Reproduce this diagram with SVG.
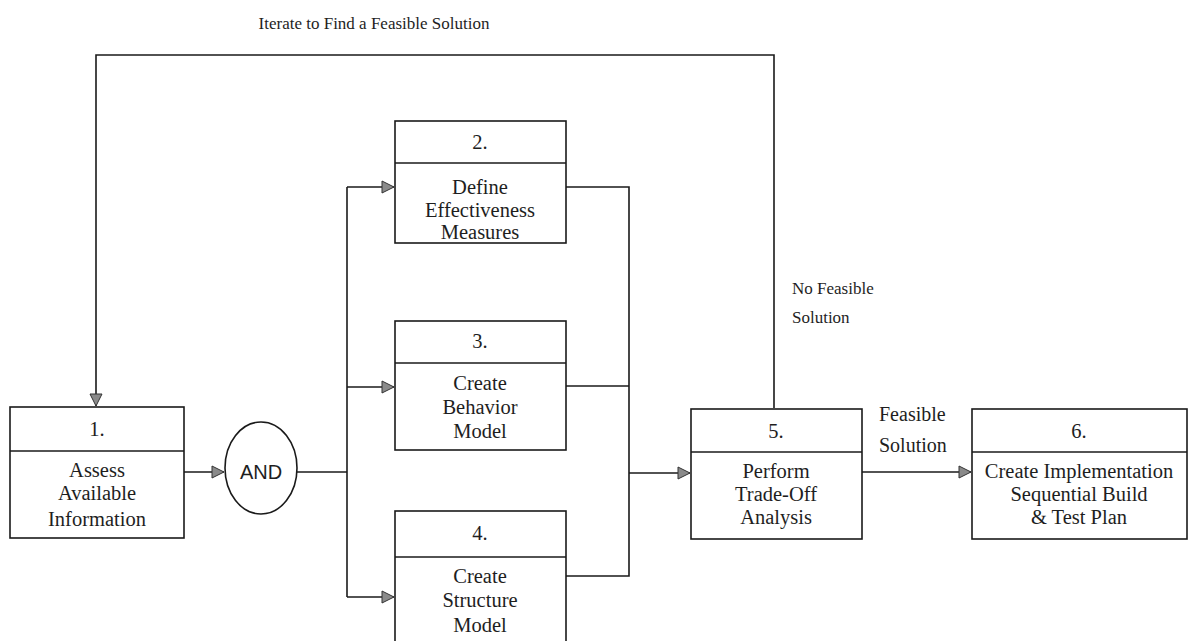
<svg xmlns="http://www.w3.org/2000/svg" width="1196" height="641" viewBox="0 0 1196 641">
  <style>
    .box { fill: #fff; stroke: #1a1a1a; stroke-width: 1.6; }
    .div { stroke: #1a1a1a; stroke-width: 1.6; }
    .wire { fill: none; stroke: #1a1a1a; stroke-width: 1.6; }
    .t { font-family: "Liberation Serif", "Times New Roman", serif; font-size: 20.5px; fill: #1e1e1e; text-anchor: middle; }
    .lbl { font-family: "Liberation Serif", "Times New Roman", serif; font-size: 17px; fill: #1e1e1e; }
    .lbl2 { font-family: "Liberation Serif", "Times New Roman", serif; font-size: 20px; fill: #1e1e1e; }
    .title { font-family: "Liberation Serif", "Times New Roman", serif; font-size: 17px; fill: #1e1e1e; text-anchor: middle; }
  </style>
  <defs>
    <marker id="arrow" markerUnits="userSpaceOnUse" markerWidth="14" markerHeight="14" viewBox="0 0 14 14" refX="13" refY="7" orient="auto">
      <path d="M1,1 L13,7 L1,13 Z" fill="#8a8a8a" stroke="#333" stroke-width="1"/>
    </marker>
  </defs>
  <rect width="1196" height="641" fill="#fff"/>

  <!-- connectors -->
  <g id="connectors">
    <!-- iteration loop from trade-off back to assessment -->
    <path class="wire" d="M774,408 V55 H96 V406" marker-end="url(#arrow)"/>
    <!-- 1 -> AND -->
    <path class="wire" d="M184,472 H224" marker-end="url(#arrow)"/>
    <!-- AND fan-out -->
    <path class="wire" d="M297,472 H347"/>
    <path class="wire" d="M347,187 V597"/>
    <path class="wire" d="M347,187 H394" marker-end="url(#arrow)"/>
    <path class="wire" d="M347,387 H394" marker-end="url(#arrow)"/>
    <path class="wire" d="M347,597 H394" marker-end="url(#arrow)"/>
    <!-- fan-in to trade-off -->
    <path class="wire" d="M566,187 H629 V576 H566"/>
    <path class="wire" d="M566,386 H629"/>
    <path class="wire" d="M629,473 H690" marker-end="url(#arrow)"/>
    <!-- 5 -> 6 -->
    <path class="wire" d="M862,472 H971" marker-end="url(#arrow)"/>
  </g>

  <!-- connector labels -->
  <text class="title" x="374" y="29">Iterate to Find a Feasible Solution</text>
  <text class="lbl" x="792" y="294">No Feasible</text>
  <text class="lbl" x="792" y="323">Solution</text>
  <text class="lbl2" x="879" y="421">Feasible</text>
  <text class="lbl2" x="879" y="452">Solution</text>

  <g id="node1">
    <rect class="box" x="10" y="407" width="174" height="131"/>
    <line class="div" x1="10" y1="451" x2="184" y2="451"/>
    <text class="t" x="97" y="436">1.</text>
    <text class="t" x="97" y="477">Assess</text>
    <text class="t" x="97" y="500">Available</text>
    <text class="t" x="97" y="526">Information</text>
  </g>

  <g id="and">
    <ellipse cx="261" cy="468" rx="36" ry="46" fill="#fff" stroke="#1a1a1a" stroke-width="1.6"/>
    <text x="261" y="479" font-family="Liberation Sans, Arial, sans-serif" font-size="20" fill="#1e1e1e" text-anchor="middle">AND</text>
  </g>

  <g id="node2">
    <rect class="box" x="395" y="121" width="171" height="122"/>
    <line class="div" x1="395" y1="163" x2="566" y2="163"/>
    <text class="t" x="480" y="149">2.</text>
    <text class="t" x="480" y="194">Define</text>
    <text class="t" x="480" y="217">Effectiveness</text>
    <text class="t" x="480" y="239">Measures</text>
  </g>

  <g id="node3">
    <rect class="box" x="395" y="321" width="171" height="129"/>
    <line class="div" x1="395" y1="363" x2="566" y2="363"/>
    <text class="t" x="480" y="348">3.</text>
    <text class="t" x="480" y="390">Create</text>
    <text class="t" x="480" y="414">Behavior</text>
    <text class="t" x="480" y="438">Model</text>
  </g>

  <g id="node4">
    <rect class="box" x="395" y="511" width="171" height="150"/>
    <line class="div" x1="395" y1="557" x2="566" y2="557"/>
    <text class="t" x="480" y="540">4.</text>
    <text class="t" x="480" y="583">Create</text>
    <text class="t" x="480" y="607">Structure</text>
    <text class="t" x="480" y="632">Model</text>
  </g>

  <g id="node5">
    <rect class="box" x="691" y="409" width="171" height="130"/>
    <line class="div" x1="691" y1="452" x2="862" y2="452"/>
    <text class="t" x="776" y="438">5.</text>
    <text class="t" x="776" y="478">Perform</text>
    <text class="t" x="776" y="501">Trade-Off</text>
    <text class="t" x="776" y="524">Analysis</text>
  </g>

  <g id="node6">
    <rect class="box" x="972" y="409" width="215" height="130"/>
    <line class="div" x1="972" y1="452" x2="1187" y2="452"/>
    <text class="t" x="1079" y="438">6.</text>
    <text class="t" x="1079" y="478">Create Implementation</text>
    <text class="t" x="1079" y="501">Sequential Build</text>
    <text class="t" x="1079" y="524">&amp; Test Plan</text>
  </g>
</svg>
